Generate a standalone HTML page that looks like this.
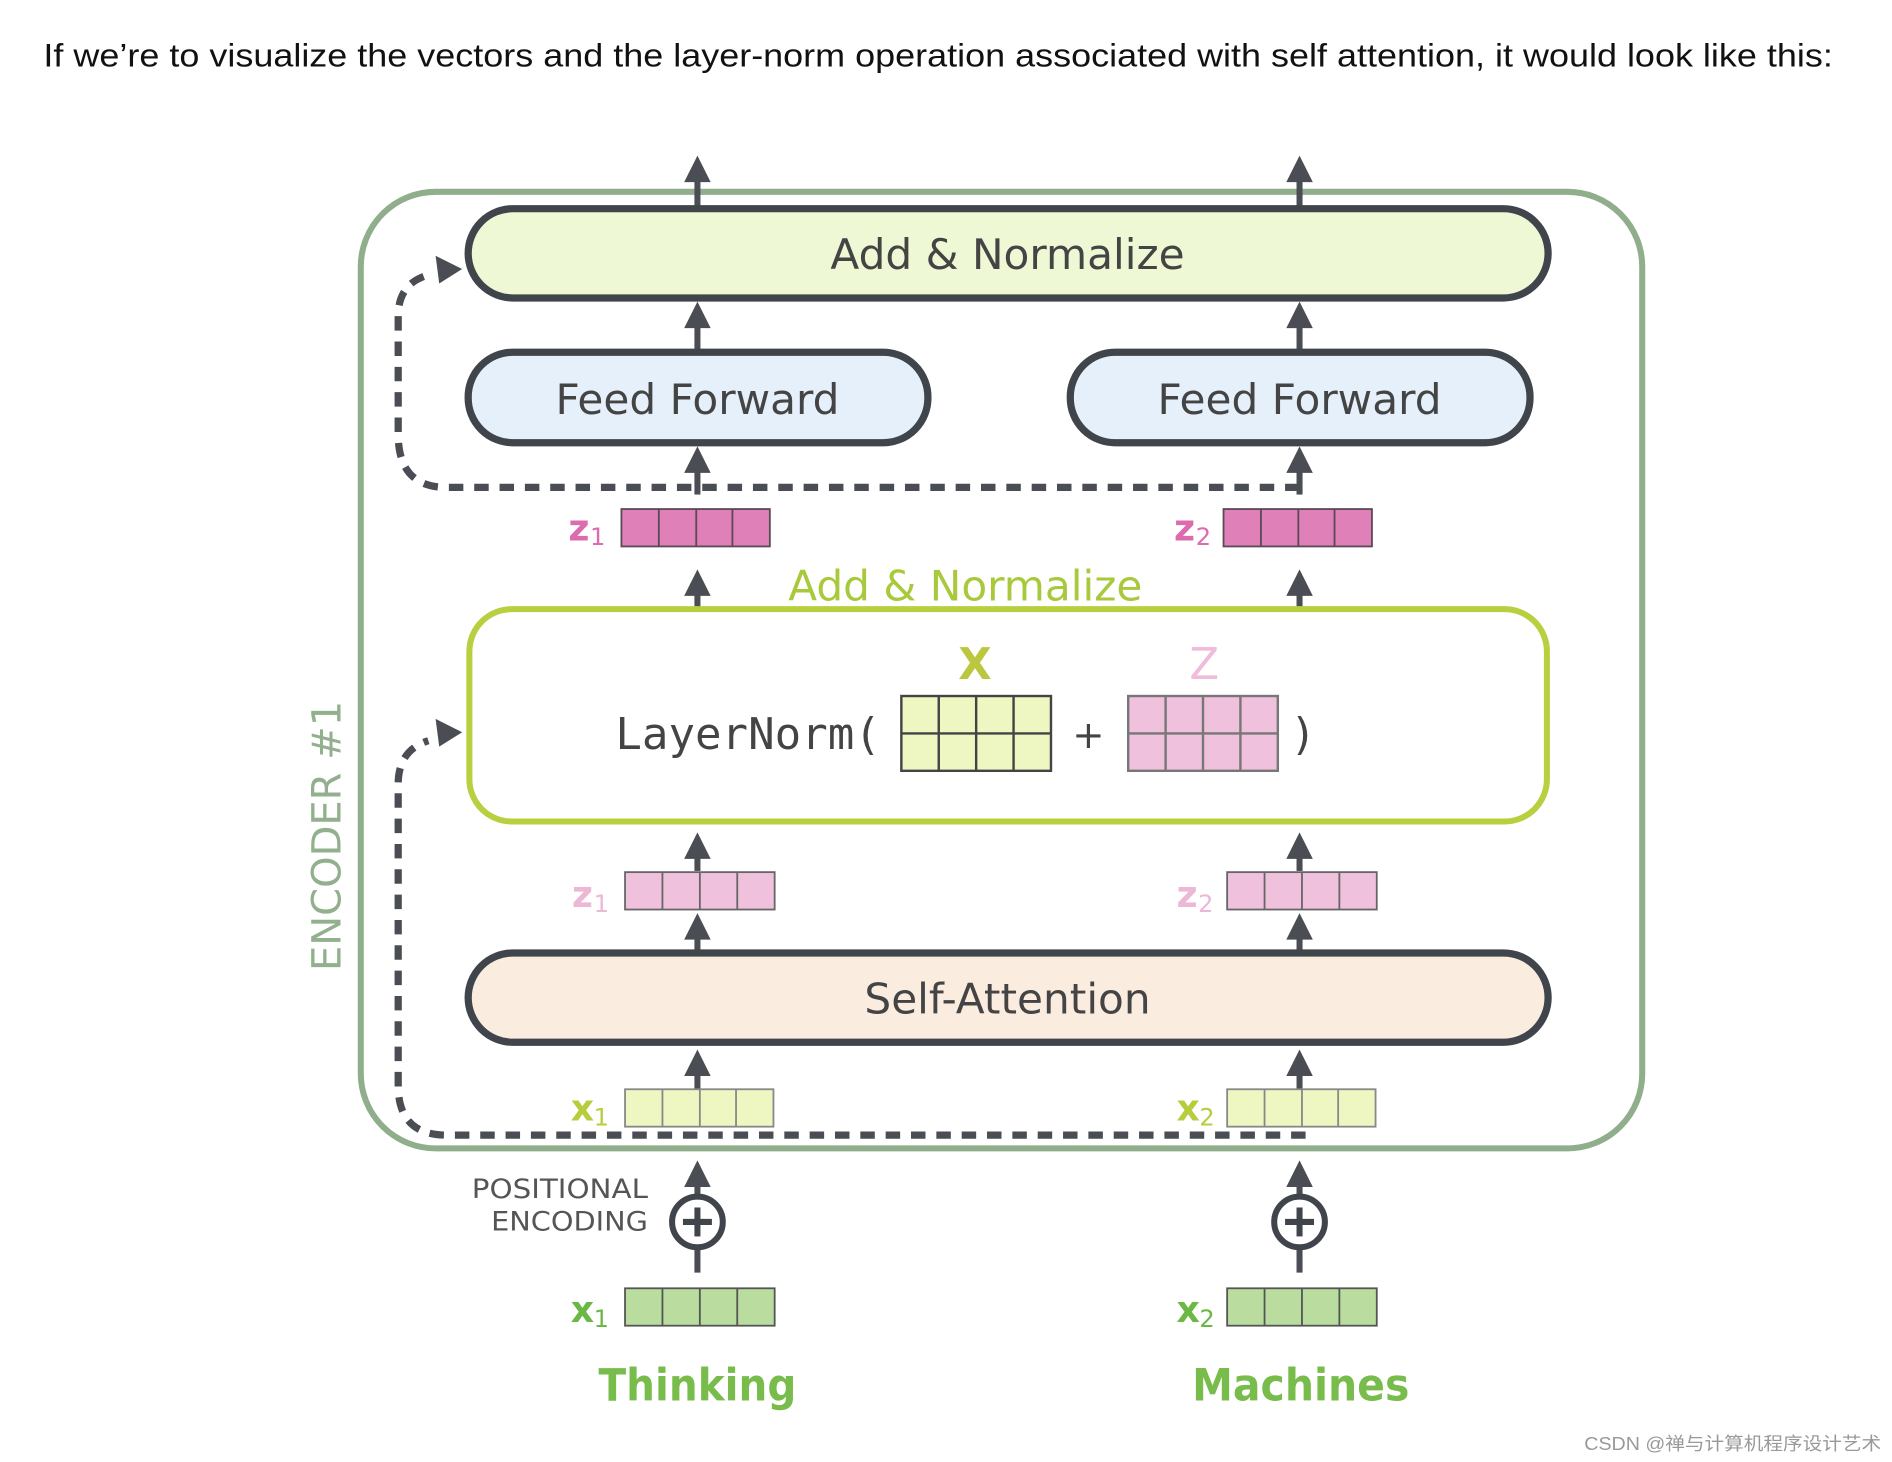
<!DOCTYPE html>
<html><head><meta charset="utf-8"><style>
html,body{margin:0;padding:0;background:#fff;width:1892px;height:1462px;overflow:hidden}
svg{display:block}
</style></head><body>
<svg width="1892" height="1462" viewBox="0 0 1568 1212" preserveAspectRatio="none" xmlns="http://www.w3.org/2000/svg">
<defs>
<g id="up"><polygon points="0,-14 -11,8 11,8" fill="#4a4d54"/></g>
</defs>
<text x="36" y="55" font-family="Liberation Sans, sans-serif" font-size="27" fill="#111" textLength="1483" lengthAdjust="spacingAndGlyphs">If we’re to visualize the vectors and the layer-norm operation associated with self attention, it would look like this:</text>

<!-- encoder box -->
<rect x="299" y="159" width="1062" height="793" rx="62" fill="none" stroke="#90ae8c" stroke-width="5"/>
<text transform="translate(282,693) rotate(-90)" text-anchor="middle" font-family="DejaVu Sans, sans-serif" font-size="33" fill="#93b08e" textLength="224" lengthAdjust="spacingAndGlyphs">ENCODER #1</text>

<!-- top arrows -->
<g stroke="#4a4d54" stroke-width="5">
<line x1="578" y1="145" x2="578" y2="172"/><line x1="1077" y1="145" x2="1077" y2="172"/>
<line x1="578" y1="265" x2="578" y2="292"/><line x1="1077" y1="265" x2="1077" y2="292"/>
<line x1="578" y1="385" x2="578" y2="410"/><line x1="1077" y1="385" x2="1077" y2="410"/>
<line x1="578" y1="490" x2="578" y2="503"/><line x1="1077" y1="490" x2="1077" y2="503"/>
<line x1="578" y1="708" x2="578" y2="722"/><line x1="1077" y1="708" x2="1077" y2="722"/>
<line x1="578" y1="775" x2="578" y2="789"/><line x1="1077" y1="775" x2="1077" y2="789"/>
<line x1="578" y1="888" x2="578" y2="903"/><line x1="1077" y1="888" x2="1077" y2="903"/>
<line x1="578" y1="980" x2="578" y2="1055"/><line x1="1077" y1="980" x2="1077" y2="1055"/>
</g>
<use href="#up" x="578" y="143"/><use href="#up" x="1077" y="143"/>
<use href="#up" x="578" y="264"/><use href="#up" x="1077" y="264"/>
<use href="#up" x="578" y="384"/><use href="#up" x="1077" y="384"/>
<use href="#up" x="578" y="486"/><use href="#up" x="1077" y="486"/>
<use href="#up" x="578" y="704"/><use href="#up" x="1077" y="704"/>
<use href="#up" x="578" y="771"/><use href="#up" x="1077" y="771"/>
<use href="#up" x="578" y="884"/><use href="#up" x="1077" y="884"/>
<use href="#up" x="578" y="976"/><use href="#up" x="1077" y="976"/>

<!-- dashed residuals -->
<g fill="none" stroke="#4a4d54" stroke-width="6" stroke-dasharray="12 9">
<path d="M1077,404 L370,404 Q330,404 330,360 L330,262 Q330,235 355,228"/>
<path d="M1082,941 L370,941 Q330,941 330,900 L330,650 Q330,622 355,614"/>
</g>
<polygon points="383,223 361,212 364,235" fill="#4a4d54"/>
<polygon points="383,607 361,596 364,619" fill="#4a4d54"/>

<!-- boxes -->
<rect x="388" y="173" width="895" height="74" rx="37" fill="#eef8d4" stroke="#40444b" stroke-width="6"/>
<text x="835" y="223" text-anchor="middle" font-family="DejaVu Sans, sans-serif" font-size="35" fill="#444">Add &amp; Normalize</text>
<rect x="388" y="292" width="381" height="75" rx="37" fill="#e5f0fb" stroke="#40444b" stroke-width="6"/>
<text x="578" y="343" text-anchor="middle" font-family="DejaVu Sans, sans-serif" font-size="35" fill="#444">Feed Forward</text>
<rect x="887" y="292" width="381" height="75" rx="37" fill="#e5f0fb" stroke="#40444b" stroke-width="6"/>
<text x="1077" y="343" text-anchor="middle" font-family="DejaVu Sans, sans-serif" font-size="35" fill="#444">Feed Forward</text>

<!-- z dark -->
<g stroke="#5a4a55" stroke-width="1.5" fill="#df80b8">
<rect x="515" y="422" width="123" height="31"/><rect x="1014" y="422" width="123" height="31"/>
</g>
<g stroke="#5a4a55" stroke-width="1.5">
<line x1="546" y1="422" x2="546" y2="453"/><line x1="577" y1="422" x2="577" y2="453"/><line x1="607" y1="422" x2="607" y2="453"/>
<line x1="1045" y1="422" x2="1045" y2="453"/><line x1="1076" y1="422" x2="1076" y2="453"/><line x1="1106" y1="422" x2="1106" y2="453"/>
</g>
<g font-family="DejaVu Sans, sans-serif" font-weight="bold" fill="#dc6cae">
<text x="471" y="448" font-size="30">z</text><text x="489" y="452" font-size="20" font-weight="normal">1</text>
<text x="973" y="448" font-size="30">z</text><text x="991" y="452" font-size="20" font-weight="normal">2</text>
</g>

<text x="800" y="498" text-anchor="middle" font-family="DejaVu Sans, sans-serif" font-size="35" fill="#a9c93c">Add &amp; Normalize</text>
<rect x="389" y="505" width="893" height="176" rx="35" fill="#fff" stroke="#b6d040" stroke-width="5"/>
<text x="808" y="563" text-anchor="middle" font-family="DejaVu Sans, sans-serif" font-weight="bold" font-size="36" fill="#bcc63e">X</text>
<text x="998" y="563" text-anchor="middle" font-family="DejaVu Sans, sans-serif" font-size="36" fill="#f0bcda">Z</text>
<text x="510" y="621" font-family="DejaVu Sans Mono, monospace" font-size="36" fill="#444" textLength="220" lengthAdjust="spacingAndGlyphs">LayerNorm(</text>
<g stroke="#444" stroke-width="2">
<rect x="747" y="577" width="124" height="62" fill="#eef7c2"/>
<line x1="778" y1="577" x2="778" y2="639"/><line x1="809" y1="577" x2="809" y2="639"/><line x1="840" y1="577" x2="840" y2="639"/><line x1="747" y1="608" x2="871" y2="608"/>
<rect x="935" y="577" width="124" height="62" fill="#f0c1dd" stroke="#777"/>
<line x1="966" y1="577" x2="966" y2="639" stroke="#777"/><line x1="997" y1="577" x2="997" y2="639" stroke="#777"/><line x1="1028" y1="577" x2="1028" y2="639" stroke="#777"/><line x1="935" y1="608" x2="1059" y2="608" stroke="#777"/>
</g>
<text x="902" y="620" text-anchor="middle" font-family="DejaVu Sans, sans-serif" font-size="32" fill="#444">+</text>
<text x="1080" y="621" text-anchor="middle" font-family="DejaVu Sans Mono, monospace" font-size="36" fill="#444">)</text>

<!-- z light -->
<g stroke="#666" stroke-width="1.5" fill="#f0c1dd">
<rect x="518" y="723" width="124" height="31"/><rect x="1017" y="723" width="124" height="31"/>
</g>
<g stroke="#666" stroke-width="1.5">
<line x1="549" y1="723" x2="549" y2="754"/><line x1="580" y1="723" x2="580" y2="754"/><line x1="611" y1="723" x2="611" y2="754"/>
<line x1="1048" y1="723" x2="1048" y2="754"/><line x1="1079" y1="723" x2="1079" y2="754"/><line x1="1110" y1="723" x2="1110" y2="754"/>
</g>
<g font-family="DejaVu Sans, sans-serif" fill="#ecb8d6">
<text x="474" y="752" font-size="30" font-weight="bold">z</text><text x="492" y="756" font-size="20">1</text>
<text x="975" y="752" font-size="30" font-weight="bold">z</text><text x="993" y="756" font-size="20">2</text>
</g>

<rect x="388" y="790" width="895" height="74" rx="37" fill="#fbece0" stroke="#40444b" stroke-width="6"/>
<text x="835" y="840" text-anchor="middle" font-family="DejaVu Sans, sans-serif" font-size="35" fill="#444">Self-Attention</text>

<!-- x light -->
<g stroke="#888" stroke-width="1.5" fill="#eef7c2">
<rect x="518" y="903" width="123" height="31"/><rect x="1017" y="903" width="123" height="31"/>
</g>
<g stroke="#888" stroke-width="1.5">
<line x1="549" y1="903" x2="549" y2="934"/><line x1="580" y1="903" x2="580" y2="934"/><line x1="610" y1="903" x2="610" y2="934"/>
<line x1="1048" y1="903" x2="1048" y2="934"/><line x1="1079" y1="903" x2="1079" y2="934"/><line x1="1109" y1="903" x2="1109" y2="934"/>
</g>
<g font-family="DejaVu Sans, sans-serif" fill="#b8cd3c">
<text x="473" y="929" font-size="30" font-weight="bold">x</text><text x="492" y="933" font-size="20">1</text>
<text x="975" y="929" font-size="30" font-weight="bold">x</text><text x="994" y="933" font-size="20">2</text>
</g>

<!-- positional encoding -->
<text x="537" y="993" text-anchor="end" font-family="DejaVu Sans, sans-serif" font-size="22" fill="#555" textLength="146" lengthAdjust="spacingAndGlyphs">POSITIONAL</text>
<text x="537" y="1020" text-anchor="end" font-family="DejaVu Sans, sans-serif" font-size="22" fill="#555" textLength="130" lengthAdjust="spacingAndGlyphs">ENCODING</text>
<g stroke="#40444b" stroke-width="5" fill="#fff">
<circle cx="578" cy="1013" r="21"/><circle cx="1077" cy="1013" r="21"/>
</g>
<g stroke="#40444b" stroke-width="5">
<line x1="566" y1="1013" x2="590" y2="1013"/><line x1="578" y1="1001" x2="578" y2="1025"/>
<line x1="1065" y1="1013" x2="1089" y2="1013"/><line x1="1077" y1="1001" x2="1077" y2="1025"/>
</g>

<!-- x green -->
<g stroke="#555" stroke-width="1.5" fill="#badd9f">
<rect x="518" y="1068" width="124" height="31"/><rect x="1017" y="1068" width="124" height="31"/>
</g>
<g stroke="#555" stroke-width="1.5">
<line x1="549" y1="1068" x2="549" y2="1099"/><line x1="580" y1="1068" x2="580" y2="1099"/><line x1="611" y1="1068" x2="611" y2="1099"/>
<line x1="1048" y1="1068" x2="1048" y2="1099"/><line x1="1079" y1="1068" x2="1079" y2="1099"/><line x1="1110" y1="1068" x2="1110" y2="1099"/>
</g>
<g font-family="DejaVu Sans, sans-serif" fill="#6cb844">
<text x="473" y="1096" font-size="30" font-weight="bold">x</text><text x="492" y="1100" font-size="20">1</text>
<text x="975" y="1096" font-size="30" font-weight="bold">x</text><text x="994" y="1100" font-size="20">2</text>
</g>
<text x="578" y="1161" text-anchor="middle" font-family="DejaVu Sans, sans-serif" font-weight="bold" font-size="37" fill="#78bc4b" textLength="164" lengthAdjust="spacingAndGlyphs">Thinking</text>
<text x="1078" y="1161" text-anchor="middle" font-family="DejaVu Sans, sans-serif" font-weight="bold" font-size="37" fill="#78bc4b" textLength="180" lengthAdjust="spacingAndGlyphs">Machines</text>

<text x="1313" y="1202" font-family="Liberation Sans, 'Noto Sans CJK SC', sans-serif" font-size="15" fill="#999" textLength="246" lengthAdjust="spacingAndGlyphs">CSDN @禅与计算机程序设计艺术</text>
</svg>
</body></html>
